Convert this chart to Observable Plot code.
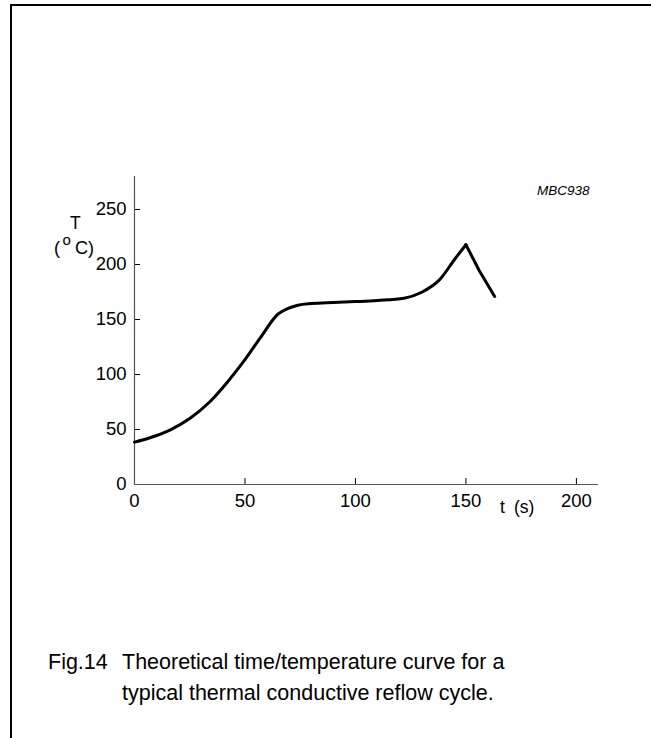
<!DOCTYPE html>
<html>
<head>
<meta charset="utf-8">
<script src="https://cdn.jsdelivr.net/npm/d3@7"></script>
<script src="https://cdn.jsdelivr.net/npm/@observablehq/plot@0.6"></script>
<style>
  html, body { margin: 0; padding: 0; background: #fff; }
  #page { position: relative; width: 651px; height: 738px; overflow: hidden; font-family: Arial, "Liberation Sans", sans-serif; color: #000; }
  #frame { position: absolute; left: 10px; top: 4px; width: 700px; height: 800px; border-left: 2px solid #000; border-top: 2px solid #000; }
  #chart { position: absolute; left: 0; top: 0; }
  .t { position: absolute; white-space: nowrap; line-height: normal; }
</style>
</head>
<body>
<div id="page">
  <div id="frame"></div>
  <div id="chart"></div>
  <div class="t" style="left:70px; top:213px; font-size:17.5px;">T</div>
  <div class="t" style="left:54px; top:238px; font-size:18px;">(</div>
  <div class="t" style="left:62.5px; top:230.5px; font-size:15px;">o</div>
  <div class="t" style="left:75px; top:238px; font-size:18px;">C)</div>
  <div class="t" style="left:500px; top:497px; font-size:17.5px;">t</div>
  <div class="t" style="left:514px; top:497px; font-size:17.5px;">(s)</div>
  <div class="t" style="left:537px; top:183px; font-size:13.5px; font-style:italic;">MBC938</div>
  <div class="t" style="left:48px; top:650px; font-size:21.5px;">Fig.14</div>
  <div class="t" style="left:122px; top:650px; font-size:21.5px;">Theoretical time/temperature curve for a</div>
  <div class="t" style="left:122px; top:681px; font-size:21.5px;">typical thermal conductive reflow cycle.</div>
</div>
<script>
// Time (s)
const tValues = [0, 7, 16, 25, 34, 42, 50, 57, 65, 69, 74, 80, 90, 100, 110, 122, 130, 138, 145, 150, 156, 163];
// Temperature (°C)
const TValues = [38.5, 42.5, 49.5, 60, 75, 93, 113.5, 133.5, 155, 159.7, 163, 164.5, 165.5, 166.3, 167.3, 169.4, 174.8, 186, 205, 218, 194.5, 171];
const peakTime = 150;
const xTicks = [0, 50, 100, 150, 200];
const yTicks = [0, 50, 100, 150, 200, 250];

const data = tValues.map((t, i) => ({t, T: TValues[i]}));
const rise = data.filter(d => d.t <= peakTime);
const fall = data.filter(d => d.t >= peakTime);

const chart = Plot.plot({
  width: 651,
  height: 540,
  marginLeft: 134,
  marginRight: 53,
  marginTop: 176,
  marginBottom: 56,
  style: {fontFamily: 'Arial, "Liberation Sans", sans-serif', fontSize: "18.5px", color: "#000", background: "transparent"},
  x: {domain: [0, 210]},
  y: {domain: [0, 280]},
  marks: [
    Plot.axisX({ticks: xTicks, tickSize: -6, tickPadding: 15, label: null, stroke: "#000", fontSize: 18.5}),
    Plot.axisY({ticks: yTicks, tickSize: -6, tickPadding: 14, label: null, stroke: "#000", fontSize: 18.5}),
    Plot.ruleX([0], {stroke: "#555", strokeWidth: 1.2}),
    Plot.ruleY([0], {stroke: "#555", strokeWidth: 1.2}),
    Plot.line(rise, {x: "t", y: "T", curve: "monotone-x", stroke: "#000", strokeWidth: 3}),
    Plot.line(fall, {x: "t", y: "T", curve: "linear", stroke: "#000", strokeWidth: 3})
  ]
});
document.getElementById("chart").appendChild(chart);
</script>
</body>
</html>
